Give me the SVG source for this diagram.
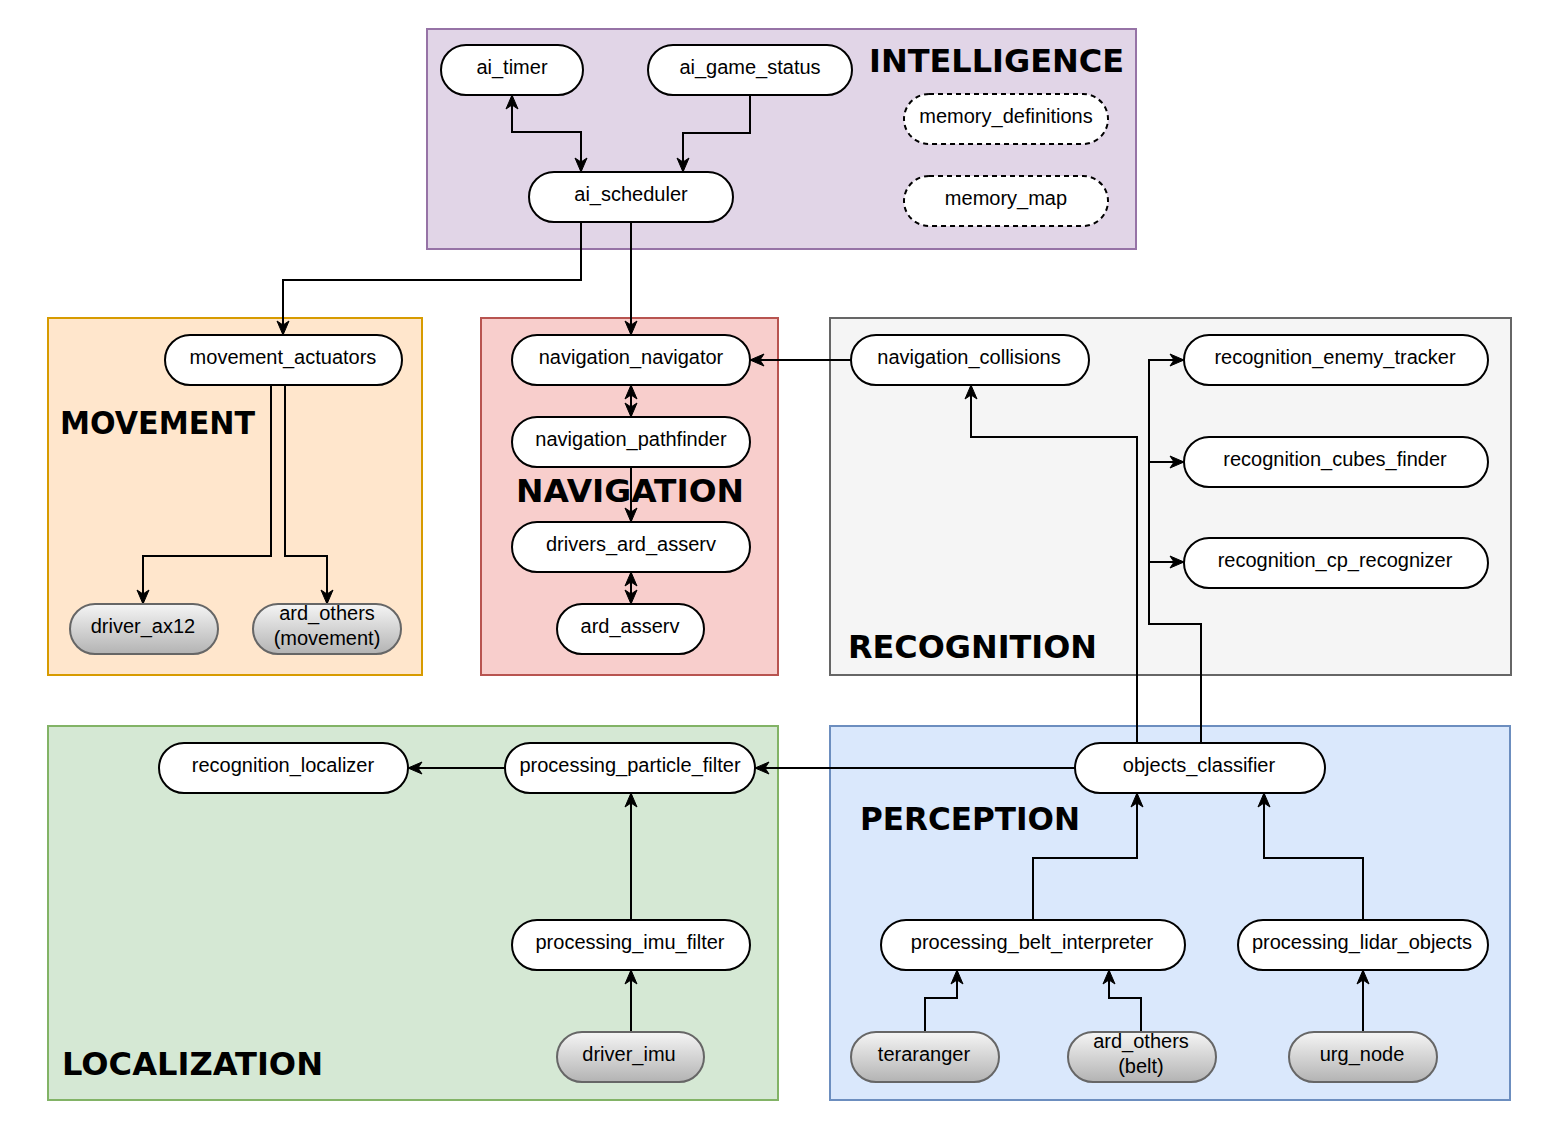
<svg xmlns="http://www.w3.org/2000/svg" width="1554" height="1127" viewBox="0 0 1554 1127">
<style>
.grp{stroke-width:2}
.title{font-family:"DejaVu Sans",Verdana,sans-serif;font-weight:bold;font-size:32px;fill:#000}
.n{fill:#fff;stroke:#000;stroke-width:2}
.d{fill:#fff;stroke:#000;stroke-width:2;stroke-dasharray:5 4}
.g{fill:url(#gray);stroke:#666;stroke-width:2}
.t{font-family:"Liberation Sans",Arial,sans-serif;font-size:20px;fill:#000;text-anchor:middle}
.c{fill:none;stroke:#000;stroke-width:2}
.ea{marker-end:url(#arr)}
.ba{marker-end:url(#arr);marker-start:url(#arr)}
</style>
<defs>
<linearGradient id="gray" x1="0" y1="0" x2="0" y2="1">
<stop offset="0" stop-color="#f5f5f5"/>
<stop offset="1" stop-color="#b3b3b3"/>
</linearGradient>
<marker id="arr" markerUnits="userSpaceOnUse" markerWidth="16" markerHeight="16" viewBox="0 0 16 16" refX="15" refY="8" orient="auto-start-reverse">
<path d="M1,2 L15,8 L1,14 L5,8 Z" fill="#000" stroke="#000" stroke-width="1"/>
</marker>
</defs>

<g id="groups">
<g id="grp-intelligence"><rect class="grp" x="427" y="29" width="709" height="220" fill="#e1d5e7" stroke="#9673a6"/><text class="title" x="869" y="72" textLength="255" lengthAdjust="spacingAndGlyphs">INTELLIGENCE</text></g>
<g id="grp-movement"><rect class="grp" x="48" y="318" width="374" height="357" fill="#ffe6cc" stroke="#d79b00"/><text class="title" x="60" y="434" textLength="195" lengthAdjust="spacingAndGlyphs">MOVEMENT</text></g>
<g id="grp-navigation"><rect class="grp" x="481" y="318" width="297" height="357" fill="#f8cecc" stroke="#b85450"/></g>
<g id="grp-recognition"><rect class="grp" x="830" y="318" width="681" height="357" fill="#f5f5f5" stroke="#666666"/><text class="title" x="848" y="658" textLength="249" lengthAdjust="spacingAndGlyphs">RECOGNITION</text></g>
<g id="grp-localization"><rect class="grp" x="48" y="726" width="730" height="374" fill="#d5e8d4" stroke="#82b366"/><text class="title" x="62" y="1075" textLength="261" lengthAdjust="spacingAndGlyphs">LOCALIZATION</text></g>
<g id="grp-perception"><rect class="grp" x="830" y="726" width="680" height="374" fill="#dae8fc" stroke="#6c8ebf"/><text class="title" x="860" y="830" textLength="220" lengthAdjust="spacingAndGlyphs">PERCEPTION</text></g>
</g>

<text class="title" x="516" y="502" textLength="228" lengthAdjust="spacingAndGlyphs">NAVIGATION</text>

<g id="connectors">
<path class="c ba" d="M581,172 V132 H512 V95"/>
<path class="c ea" d="M750,95 V133 H683 V172"/>
<path class="c ea" d="M581,222 V280 H283 V335"/>
<path class="c ea" d="M631,222 V335"/>
<path class="c ba" d="M631,385 V417"/>
<path class="c ea" d="M631,467 V522"/>
<path class="c ba" d="M631,572 V604"/>
<path class="c ea" d="M851,360 H750"/>
<path class="c ea" d="M271,385 V556 H143 V604"/>
<path class="c ea" d="M285,385 V556 H327 V604"/>
<path class="c ea" d="M1137,743 V437 H971 V385"/>
<path class="c ea" d="M1201,743 V624 H1149 V360 H1184"/>
<path class="c ea" d="M1149,462 H1184"/>
<path class="c ea" d="M1149,562 H1184"/>
<path class="c ea" d="M1075,768 H755"/>
<path class="c ea" d="M505,768 H408"/>
<path class="c ea" d="M631,920 V793"/>
<path class="c ea" d="M631,1032 V970"/>
<path class="c ea" d="M1033,920 V858 H1137 V793"/>
<path class="c ea" d="M1363,920 V858 H1264 V793"/>
<path class="c ea" d="M925,1032 V998 H957 V970"/>
<path class="c ea" d="M1141,1032 V998 H1109 V970"/>
<path class="c ea" d="M1363,1032 V970"/>
</g>

<g id="n-ai_timer"><rect class="n" x="441" y="45" width="142" height="50" rx="25"/><text class="t" x="512" y="74">ai_timer</text></g>
<g id="n-ai_game_status"><rect class="n" x="648" y="45" width="204" height="50" rx="25"/><text class="t" x="750" y="74">ai_game_status</text></g>
<g id="n-memory_definitions"><rect class="d" x="904" y="94" width="204" height="50" rx="25"/><text class="t" x="1006" y="123">memory_definitions</text></g>
<g id="n-memory_map"><rect class="d" x="904" y="176" width="204" height="50" rx="25"/><text class="t" x="1006" y="205">memory_map</text></g>
<g id="n-ai_scheduler"><rect class="n" x="529" y="172" width="204" height="50" rx="25"/><text class="t" x="631" y="201">ai_scheduler</text></g>

<g id="n-movement_actuators"><rect class="n" x="165" y="335" width="237" height="50" rx="25"/><text class="t" x="283" y="364">movement_actuators</text></g>
<g id="n-driver_ax12"><rect class="g" x="70" y="604" width="148" height="50" rx="25"/><text class="t" x="143" y="633">driver_ax12</text></g>
<g id="n-ard_others_movement"><rect class="g" x="253" y="604" width="148" height="50" rx="25"/><text class="t" x="327" y="620">ard_others</text><text class="t" x="327" y="645">(movement)</text></g>

<g id="n-navigation_navigator"><rect class="n" x="512" y="335" width="238" height="50" rx="25"/><text class="t" x="631" y="364">navigation_navigator</text></g>
<g id="n-navigation_pathfinder"><rect class="n" x="512" y="417" width="238" height="50" rx="25"/><text class="t" x="631" y="446">navigation_pathfinder</text></g>
<g id="n-drivers_ard_asserv"><rect class="n" x="512" y="522" width="238" height="50" rx="25"/><text class="t" x="631" y="551">drivers_ard_asserv</text></g>
<g id="n-ard_asserv"><rect class="n" x="557" y="604" width="147" height="50" rx="25"/><text class="t" x="630" y="633">ard_asserv</text></g>

<g id="n-navigation_collisions"><rect class="n" x="851" y="335" width="238" height="50" rx="25"/><text class="t" x="969" y="364">navigation_collisions</text></g>
<g id="n-recognition_enemy_tracker"><rect class="n" x="1184" y="335" width="304" height="50" rx="25"/><text class="t" x="1335" y="364">recognition_enemy_tracker</text></g>
<g id="n-recognition_cubes_finder"><rect class="n" x="1184" y="437" width="304" height="50" rx="25"/><text class="t" x="1335" y="466">recognition_cubes_finder</text></g>
<g id="n-recognition_cp_recognizer"><rect class="n" x="1184" y="538" width="304" height="50" rx="25"/><text class="t" x="1335" y="567">recognition_cp_recognizer</text></g>

<g id="n-recognition_localizer"><rect class="n" x="159" y="743" width="249" height="50" rx="25"/><text class="t" x="283" y="772">recognition_localizer</text></g>
<g id="n-processing_particle_filter"><rect class="n" x="505" y="743" width="250" height="50" rx="25"/><text class="t" x="630" y="772">processing_particle_filter</text></g>
<g id="n-processing_imu_filter"><rect class="n" x="512" y="920" width="238" height="50" rx="25"/><text class="t" x="630" y="949">processing_imu_filter</text></g>
<g id="n-driver_imu"><rect class="g" x="557" y="1032" width="147" height="50" rx="25"/><text class="t" x="629" y="1061">driver_imu</text></g>

<g id="n-objects_classifier"><rect class="n" x="1075" y="743" width="250" height="50" rx="25"/><text class="t" x="1199" y="772">objects_classifier</text></g>
<g id="n-processing_belt_interpreter"><rect class="n" x="881" y="920" width="304" height="50" rx="25"/><text class="t" x="1032" y="949">processing_belt_interpreter</text></g>
<g id="n-processing_lidar_objects"><rect class="n" x="1238" y="920" width="250" height="50" rx="25"/><text class="t" x="1362" y="949">processing_lidar_objects</text></g>
<g id="n-teraranger"><rect class="g" x="851" y="1032" width="148" height="50" rx="25"/><text class="t" x="924" y="1061">teraranger</text></g>
<g id="n-ard_others_belt"><rect class="g" x="1068" y="1032" width="148" height="50" rx="25"/><text class="t" x="1141" y="1048">ard_others</text><text class="t" x="1141" y="1073">(belt)</text></g>
<g id="n-urg_node"><rect class="g" x="1289" y="1032" width="148" height="50" rx="25"/><text class="t" x="1362" y="1061">urg_node</text></g>
</svg>
